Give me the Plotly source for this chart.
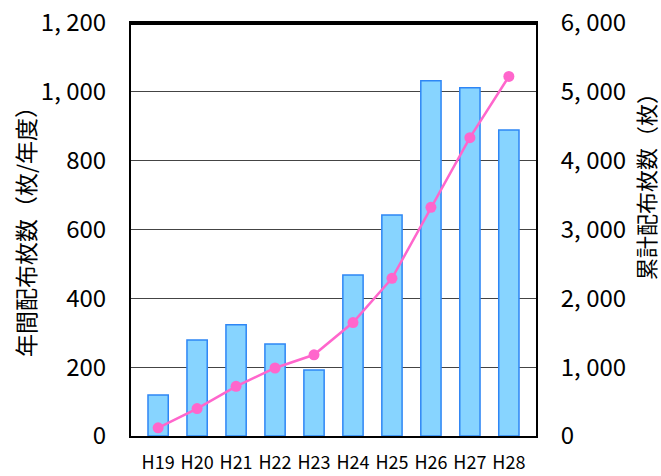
import plotly.graph_objects as go

years = ["H19", "H20", "H21", "H22", "H23", "H24", "H25", "H26", "H27", "H28"]
annual = [119, 279, 323, 267, 192, 468, 642, 1032, 1012, 889]
cumulative = [119, 398, 721, 988, 1180, 1648, 2290, 3322, 4334, 5223]

left_ticks = [0, 200, 400, 600, 800, 1000, 1200]
left_labels = ["0", "200", "400", "600", "800", "1, 000", "1, 200"]
right_ticks = [0, 1000, 2000, 3000, 4000, 5000, 6000]
right_labels = ["0", "1, 000", "2, 000", "3, 000", "4, 000", "5, 000", "6, 000"]

font_family = "Noto Sans CJK JP"

W, H = 661, 476
L, R, T, B = 131, 125, 23, 40

fig = go.Figure()

fig.add_trace(go.Bar(
    x=years, y=annual, name="年間配布枚数",
    marker=dict(color="#87D4FF", line=dict(color="#2E86F5", width=1.5)),
    width=0.52,
))

fig.add_trace(go.Scatter(
    x=years, y=cumulative, name="累計配布枚数", yaxis="y2",
    mode="lines+markers",
    line=dict(color="#FF66CC", width=2.5),
    marker=dict(color="#FF66CC", size=11),
))

def px_to_paper(x, y):
    return (x - L) / (W - L - R), (H - B - y) / (H - T - B)

lx, ly = px_to_paper(25, 226)
rx, ry = px_to_paper(645, 181)

fig.update_layout(
    width=W, height=H,
    margin=dict(l=L, r=R, t=T, b=B),
    paper_bgcolor="white", plot_bgcolor="white",
    showlegend=False,
    font=dict(family=font_family, color="black"),
    xaxis=dict(
        automargin=False,
        showline=True, linecolor="black", linewidth=2, mirror="all",
        tickfont=dict(size=18), ticks="", showgrid=False,
        ticklabelstandoff=9,
    ),
    yaxis=dict(
        automargin=False,
        range=[0, 1200], tickvals=left_ticks, ticktext=left_labels,
        showgrid=True, gridcolor="#444444", gridwidth=1,
        showline=True, linecolor="black", linewidth=2,
        ticks="", tickfont=dict(size=24), ticklabelstandoff=18,
        ticklabeloverflow="allow",
    ),
    yaxis2=dict(
        automargin=False,
        range=[0, 6000], tickvals=right_ticks, ticktext=right_labels,
        overlaying="y", side="right", showgrid=False,
        showline=True, linecolor="black", linewidth=2,
        ticks="", tickfont=dict(size=24), ticklabelstandoff=18,
        ticklabeloverflow="allow",
    ),
    annotations=[
        dict(text="年間配布枚数（枚/年度）", x=lx, y=ly, xref="paper", yref="paper",
             xanchor="center", yanchor="middle",
             textangle=-90, showarrow=False, font=dict(size=23)),
        dict(text="累計配布枚数（枚）", x=rx, y=ry, xref="paper", yref="paper",
             xanchor="center", yanchor="middle",
             textangle=-90, showarrow=False, font=dict(size=22)),
    ],
)

# top frame line of the plot box, drawn just inside the top edge
fig.add_shape(type="line", xref="paper", yref="paper", x0=0, x1=1,
              y0=0.998, y1=0.998, layer="above",
              line=dict(color="black", width=2.5))

# drop the default page margin so the figure sits at the window's corner
fig.write_html(
    "out.html",
    config={"displayModeBar": False},
    post_script="document.body.style.margin='0';document.body.style.overflow='hidden';",
)
